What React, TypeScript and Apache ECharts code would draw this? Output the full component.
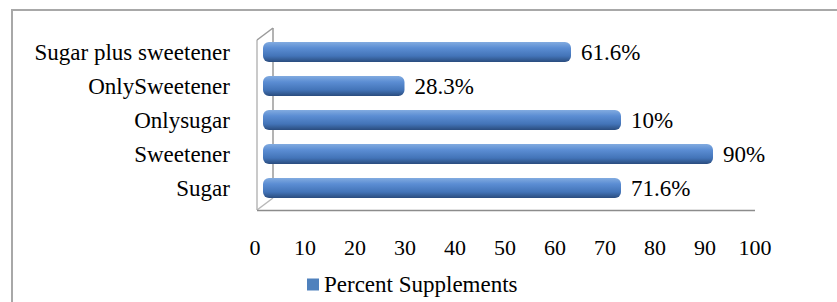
import React, { useEffect, useRef } from "react";
import * as echarts from "echarts";

const categories = ["Sugar", "Sweetener", "Onlysugar", "OnlySweetener", "Sugar plus sweetener"];
const values = [71.6, 90, 71.6, 28.3, 61.6];
const valueLabels = ["71.6%", "90%", "10%", "28.3%", "61.6%"];
const seriesName = "Percent Supplements";
const xTicks = { min: 0, max: 100, interval: 10 };

const FONT = "Liberation Serif";

export default function App() {
  const ref = useRef<HTMLDivElement>(null);
  useEffect(() => {
    if (!ref.current) return;
    const chart = echarts.init(ref.current, null, { renderer: "svg" });
    const wallColor = "#b8b8b8";
    chart.setOption({
      animation: false,
      backgroundColor: "#ffffff",
      textStyle: { fontFamily: FONT },
      grid: { left: 263, right: 74, top: 35, height: 170 },
      legend: {
        left: 302,
        top: 268,
        icon: "rect",
        itemWidth: 12,
        itemHeight: 12,
        itemGap: 4,
        textStyle: { fontFamily: FONT, fontSize: 23, color: "#000" },
        data: [{ name: seriesName, itemStyle: { color: "#4f81bd" } }],
      },
      xAxis: {
        type: "value",
        min: xTicks.min,
        max: xTicks.max,
        interval: xTicks.interval,
        axisLine: { show: false },
        axisTick: { show: false },
        splitLine: { show: false },
        axisLabel: {
          fontFamily: FONT,
          fontSize: 22,
          color: "#000",
          margin: 31,
          padding: [0, 16, 0, 0],
        },
      },
      yAxis: {
        type: "category",
        data: categories,
        axisLine: { show: false },
        axisTick: { show: false },
        axisLabel: { fontFamily: FONT, fontSize: 23, color: "#000", margin: 33 },
      },
      graphic: [
        {
          type: "rect",
          shape: { x: 12, y: 10, width: 840, height: 310 },
          style: { fill: "none", stroke: "#a8a8a8", lineWidth: 2 },
          z: -10,
        },
        { type: "line", shape: { x1: 257, y1: 40, x2: 257, y2: 210 }, style: { stroke: wallColor, lineWidth: 1.5 }, z: -5 },
        { type: "line", shape: { x1: 273, y1: 28, x2: 273, y2: 198 }, style: { stroke: "#9a9a9a", lineWidth: 1.5 }, z: -5 },
        { type: "line", shape: { x1: 257, y1: 40, x2: 273, y2: 28 }, style: { stroke: "#9a9a9a", lineWidth: 1.5 }, z: -5 },
        { type: "line", shape: { x1: 257, y1: 210, x2: 273, y2: 198 }, style: { stroke: wallColor, lineWidth: 1.5 }, z: -5 },
        { type: "line", shape: { x1: 257, y1: 210.5, x2: 755, y2: 210.5 }, style: { stroke: "#8c8c8c", lineWidth: 1.5 }, z: -5 },
      ],
      series: [
        {
          name: seriesName,
          type: "bar",
          data: values,
          barWidth: 20,
          itemStyle: {
            borderRadius: 6,
            color: new echarts.graphic.LinearGradient(0, 0, 0, 1, [
              { offset: 0, color: "#82abe0" },
              { offset: 0.3, color: "#5b8dd3" },
              { offset: 0.7, color: "#4374b8" },
              { offset: 1, color: "#2a4c7e" },
            ]),
          },
          label: {
            show: true,
            position: "right",
            distance: 10,
            fontFamily: FONT,
            fontSize: 23,
            color: "#000",
            formatter: (p: any) => valueLabels[p.dataIndex],
          },
        },
      ],
    });
    return () => chart.dispose();
  }, []);
  return (
    <div
      ref={ref}
      style={{ position: "fixed", left: 0, top: 0, width: 837, height: 302, background: "#fff" }}
    />
  );
}
